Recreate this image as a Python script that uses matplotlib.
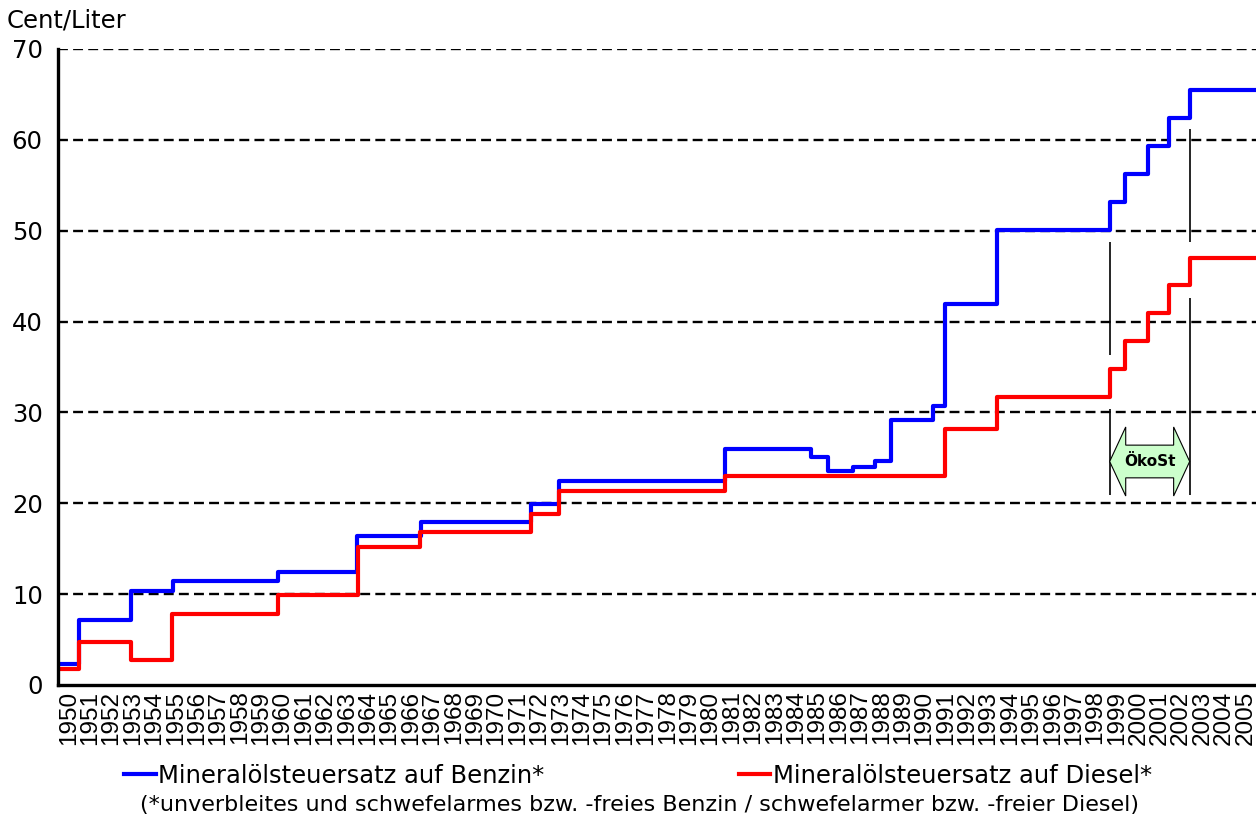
import matplotlib
matplotlib.use('Agg')
import matplotlib.pyplot as plt
from matplotlib.patches import Polygon

# step data: year where the new rate starts, rate in Cent/Liter
benzin_years = [1949.5, 1950.48, 1952.92, 1954.86, 1959.77, 1963.46, 1966.45, 1971.63,
                1972.94, 1980.69, 1984.70, 1985.47, 1986.68, 1987.70, 1988.43, 1990.42,
                1990.94, 1993.41, 1998.66, 1999.38, 2000.43, 2001.41, 2002.40, 2005.5]
benzin_vals = [2.3, 7.2, 10.3, 11.4, 12.4, 16.4, 17.9, 19.9,
               22.5, 26.0, 25.1, 23.6, 24.0, 24.6, 29.2, 30.7,
               41.9, 50.1, 53.2, 56.2, 59.3, 62.4, 65.5, 65.5]

diesel_years = [1949.5, 1950.48, 1952.92, 1954.83, 1959.77, 1963.50, 1966.42, 1971.60,
                1972.94, 1980.70, 1990.94, 1993.41, 1998.66, 1999.38, 2000.43, 2001.41,
                2002.40, 2005.5]
diesel_vals = [1.75, 4.7, 2.75, 7.85, 9.87, 15.2, 16.8, 18.8,
               21.4, 22.95, 28.15, 31.7, 34.8, 37.85, 40.9, 44.0,
               47.05, 47.05]

years = list(range(1950, 2006))
okost_start = 1998.66
okost_end = 2002.40

fig = plt.figure(figsize=(12.56, 8.16), dpi=100)
ax = fig.add_axes([58 / 1256, 131 / 816, 1198 / 1256, 636 / 816])

ax.plot(benzin_years, benzin_vals, drawstyle='steps-post', color='#0000ff', lw=3,
        label='Mineralölsteuersatz auf Benzin*', zorder=3)
ax.plot(diesel_years, diesel_vals, drawstyle='steps-post', color='#ff0000', lw=3,
        label='Mineralölsteuersatz auf Diesel*', zorder=3)

ax.set_xlim(1949.5, 2005.5)
ax.set_ylim(0, 70)
ax.set_yticks(range(0, 80, 10))
ax.set_xticks(years)
ax.set_xticklabels([str(y) for y in years], rotation=90, family='Liberation Sans', fontsize=17.5)
ax.tick_params(axis='x', length=0, pad=4)
ax.tick_params(axis='y', length=0, pad=11, labelsize=17.5)

for v in range(10, 80, 10):
    ax.axhline(v, color='black', lw=1.7, linestyle=(0, (4.2, 2.2)), zorder=1)

for s in ['top', 'right']:
    ax.spines[s].set_visible(False)
for s in ['left', 'bottom']:
    ax.spines[s].set_linewidth(2.4)
    ax.spines[s].set_zorder(4)

# Ökosteuer markers
ax.vlines(okost_start, 36.3, 48.8, color='black', lw=1.2)
ax.vlines(okost_start, 20.9, 30.4, color='black', lw=1.2)
ax.vlines(okost_end, 48.8, 61.2, color='black', lw=1.2)
ax.vlines(okost_end, 20.9, 42.6, color='black', lw=1.2)

head = 0.75
yc, yo, yb = 24.6, 3.8, 1.8
arrow = Polygon([(okost_start, yc), (okost_start + head, yc + yo), (okost_start + head, yc + yb),
                 (okost_end - head, yc + yb), (okost_end - head, yc + yo), (okost_end, yc),
                 (okost_end - head, yc - yo), (okost_end - head, yc - yb),
                 (okost_start + head, yc - yb), (okost_start + head, yc - yo)],
                closed=True, facecolor='#ccffcc', edgecolor='black', lw=0.8, zorder=5)
ax.add_patch(arrow)
ax.text((okost_start + okost_end) / 2, yc, 'ÖkoSt', ha='center', va='center',
        fontsize=11, fontweight='bold', zorder=6)

fig.text(7 / 1256, 1 - 20 / 816, 'Cent/Liter', fontsize=17.5, va='center', ha='left')

fig.legend(loc='center', bbox_to_anchor=(638 / 1256, 1 - 776 / 816), ncol=2, frameon=False,
           fontsize=17.5, handlelength=1.3, handletextpad=0.1, columnspacing=8.0,
           borderpad=0, borderaxespad=0)
fig.text(640 / 1256, 1 - 805 / 816,
         '(*unverbleites und schwefelarmes bzw. -freies Benzin / schwefelarmer bzw. -freier Diesel)',
         fontsize=16, ha='center', va='center')

plt.savefig('out.png', dpi=100)
